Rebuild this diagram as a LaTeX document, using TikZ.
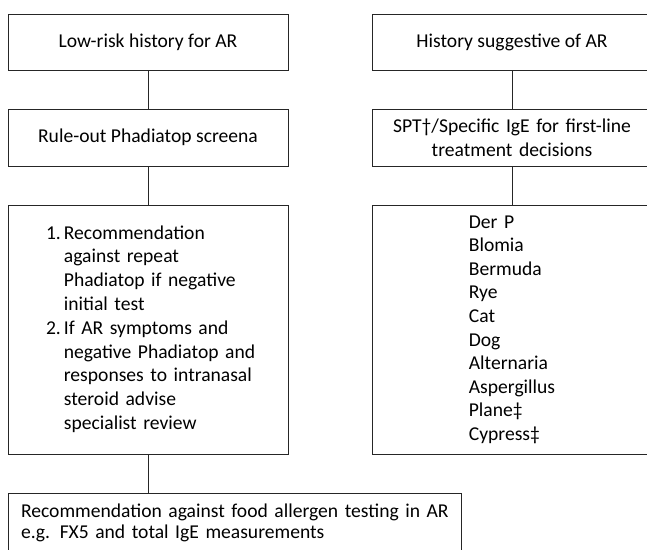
\documentclass[tikz,border=0pt]{standalone}
\usepackage{fontspec}
\setmainfont{Carlito}
\begin{document}
\begin{tikzpicture}[x=1pt,y=-1pt]
\tikzstyle{box} = [draw=black!85,line width=1pt,rectangle,inner sep=0pt,minimum width=280pt,font=\fontsize{19.6}{23.8}\selectfont]
\tikzstyle{link} = [draw=black!85,line width=1pt]
\pgfmathsetmacro \l {148}
\pgfmathsetmacro \r {512}
\useasboundingbox (0,0) rectangle (647,549);
\clip (0,0) rectangle (647,549);
	% left column
	\node[box,minimum height=56pt] (low) at (\l,42) {Low-risk history for AR};
	\node[box,minimum height=57pt] (screen) at (\l,137.5) {Rule-out Phadiatop screena};
	\node[box,minimum height=249pt,text width=204pt,inner xsep=38pt,align=left] (recs) at (\l,329.5) {%
	\begin{tabular}{@{}r@{\hspace{3pt}}l@{}}
	1. & Recommendation\\
	   & against repeat\\
	   & Phadiatop if negative\\
	   & initial test\\
	2. & If AR symptoms and\\
	   & negative Phadiatop and\\
	   & responses to intranasal\\
	   & steroid advise\\
	   & specialist review
	\end{tabular}};
	\node[box,minimum width=453pt,minimum height=59pt,text width=427pt,inner xsep=13pt,align=left,font=\fontsize{19.6}{21}\selectfont] (food) at (234.5,522.5) {\mbox{Recommendation against food allergen testing in AR}\\\mbox{e.g. FX5 and total IgE measurements}};
	% right column
	\node[box,minimum height=56pt] (sugg) at (\r,42) {History suggestive of AR};
	\node[box,minimum height=57pt,text width=280pt,align=center] (spt) at (\r,137.5) {SPT†/Specific IgE for first-line\\treatment decisions};
	\node[box,minimum height=249pt,text width=280pt,align=center,font=\fontsize{19.6}{23.6}\selectfont] (allerg) at (\r,329.5) {%
	\begin{tabular}{@{}l@{}}
	Der P\\ Blomia\\ Bermuda\\ Rye\\ Cat\\ Dog\\ Alternaria\\ Aspergillus\\ Plane‡\\ Cypress‡
	\end{tabular}};
	% connectors
	\draw[link] (low) -- (screen);
	\draw[link] (screen) -- (recs);
	\draw[link] (recs.south) -- (recs.south |- food.north);
	\draw[link] (sugg) -- (spt);
	\draw[link] (spt) -- (allerg);
\end{tikzpicture}
\end{document}
